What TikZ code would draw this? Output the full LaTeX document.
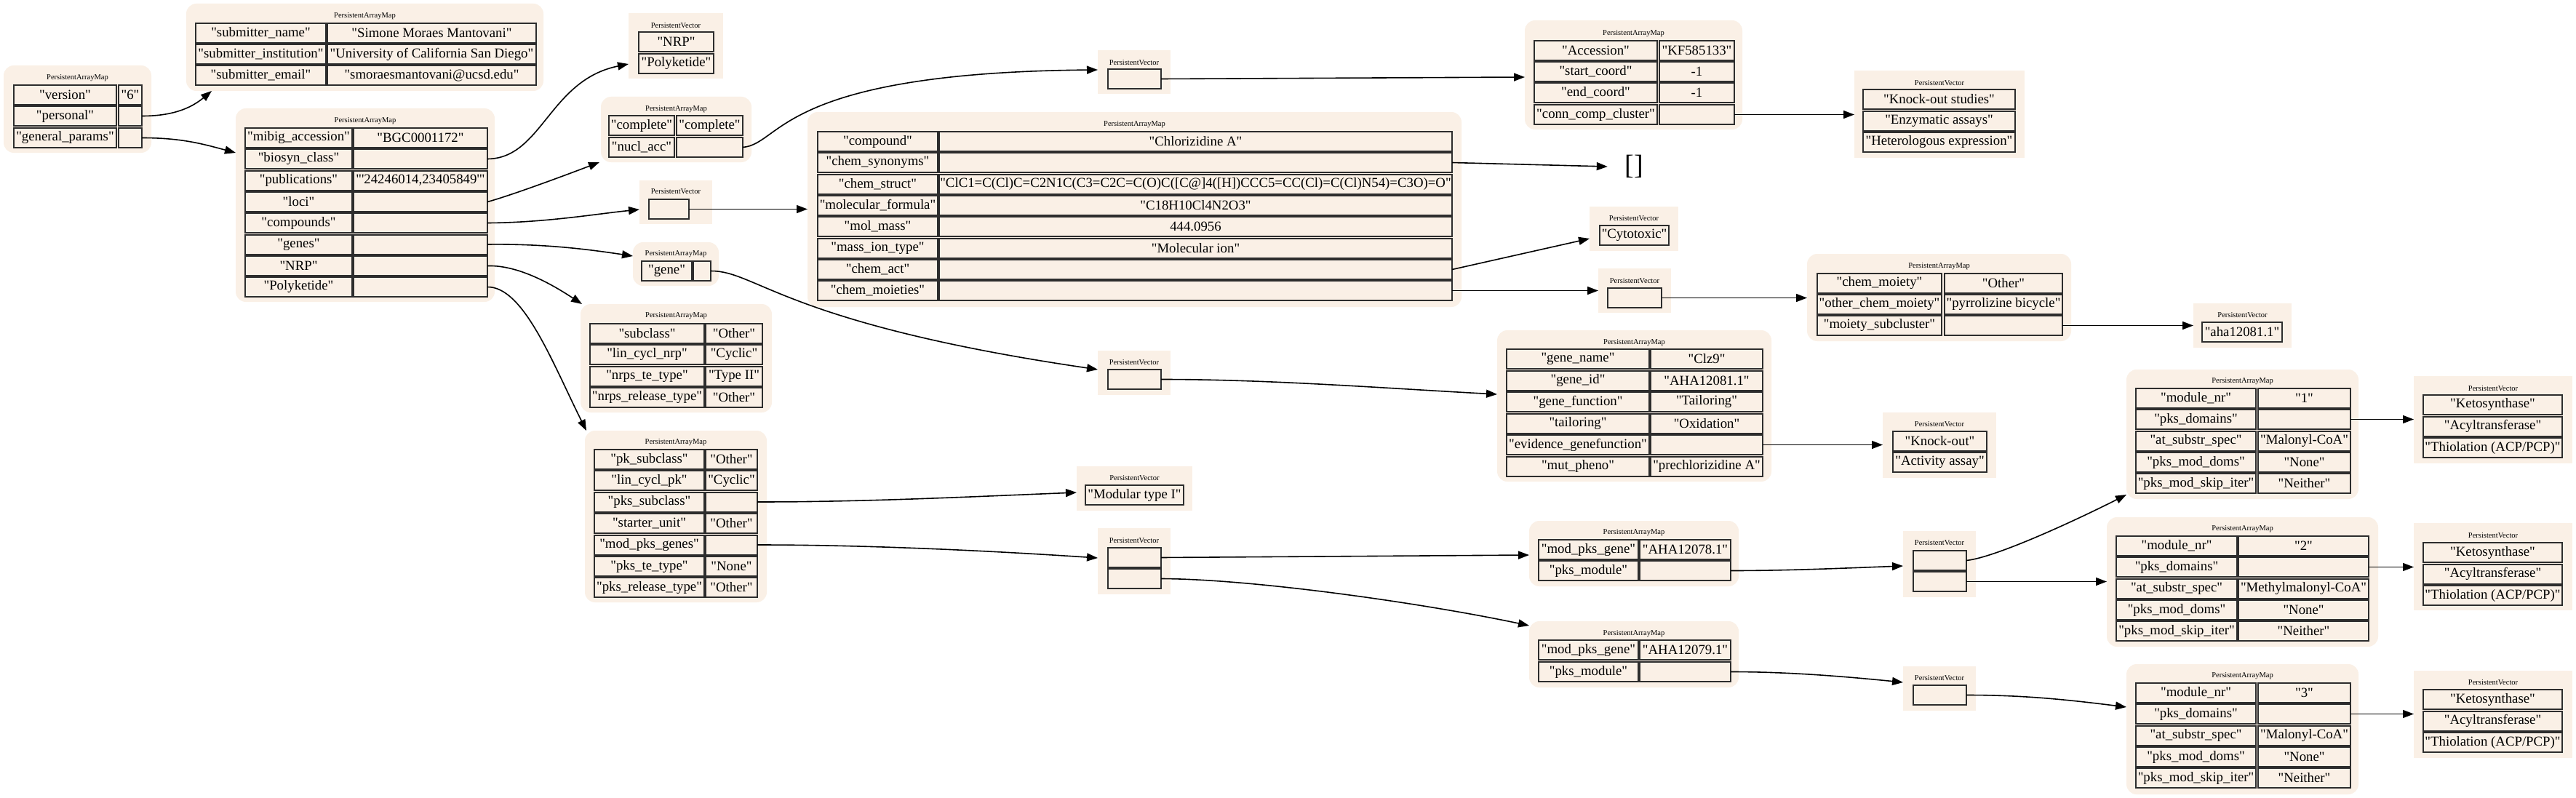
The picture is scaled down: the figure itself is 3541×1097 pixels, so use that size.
\documentclass[tikz,border=0pt]{standalone}
\usepackage{fontspec}
\setmainfont{Liberation Serif}[Ligatures=TeXOff]
\usetikzlibrary{arrows.meta,calc}
\definecolor{linen}{RGB}{250,240,230}
\definecolor{cb}{RGB}{45,45,45}
\tikzset{
  pamst/.style={fill=linen, rounded corners=14pt, inner sep=0, outer sep=0},
  pvst/.style={fill=linen, inner sep=0, outer sep=0},
  ttl/.style={inner sep=0, font=\fontsize{10.5}{12}\selectfont},
  cellst/.style={draw=cb, line width=2pt, fill=linen, inner sep=0, outer sep=0, font=\fontsize{18.8}{22}\selectfont},
  edge/.style={draw=black, line width=1.6pt, -{Triangle[length=15pt,width=11pt]}}
}
\newcommand{\pam}[6]{\node[pamst,anchor=north west,minimum width={#4-#2},minimum height={#5-#3}] (#1) at (#2,#3) {};
  \node[ttl] (#1t) at ({(#2+#4)/2},#6) {PersistentArrayMap};}
\newcommand{\pv}[6]{\node[pvst,anchor=north west,minimum width={#4-#2},minimum height={#5-#3}] (#1) at (#2,#3) {};
  \node[ttl] (#1t) at ({(#2+#4)/2},#6) {PersistentVector};}
\newcommand{\kv}[8]{\node[cellst,anchor=north west,minimum width={#4-#3},minimum height=27] (#1k) at (#3,#2) {#7};
  \node[cellst,anchor=north west,minimum width={#6-#5},minimum height=27] (#1v) at (#5,#2) {#8};}
\newcommand{\vc}[5]{\node[cellst,anchor=north west,minimum width={#4-#3},minimum height=27] (#1) at (#3,#2) {#5};}
\begin{document}
\begin{tikzpicture}[x=1pt,y=-1pt]
\fill[white] (0,0) rectangle (3541,1097);
\useasboundingbox (0,0) rectangle (3541,1097);

% root map
\pam{m0}{5}{90}{208}{210}{107}
\kv{m0r1}{117}{19}{160}{163}{195}{"version"}{"6"}
\kv{m0r2}{146}{19}{160}{163}{195}{"personal"}{}
\kv{m0r3}{176}{19}{160}{163}{195}{"general\_params"}{}

% personal
\pam{m1}{256}{5}{747}{125}{22}
\kv{m1r1}{32}{269}{448}{450}{737}{"submitter\_name"}{"Simone Moraes Mantovani"}
\kv{m1r2}{61}{269}{448}{450}{737}{"submitter\_institution"}{"University of California San Diego"}
\kv{m1r3}{90}{269}{448}{450}{737}{"submitter\_email"}{"smoraesmantovani@ucsd.edu"}

% general params
\pam{m2}{324}{149}{680}{415}{166}
\kv{m2r1}{176}{337}{484}{486}{670}{"mibig\_accession"}{"BGC0001172"}
\kv{m2r2}{205}{337}{484}{486}{670}{"biosyn\_class"}{}
\kv{m2r3}{234.5}{337}{484}{486}{670}{"publications"}{"'24246014,23405849'"}
\kv{m2r4}{264}{337}{484}{486}{670}{"loci"}{}
\kv{m2r5}{293}{337}{484}{486}{670}{"compounds"}{}
\kv{m2r6}{322.5}{337}{484}{486}{670}{"genes"}{}
\kv{m2r7}{352}{337}{484}{486}{670}{"NRP"}{}
\kv{m2r8}{381}{337}{484}{486}{670}{"Polyketide"}{}

% biosyn class vector
\pv{v1}{864}{18}{994}{108}{35}
\vc{v1c1}{44}{878}{981}{"NRP"}
\vc{v1c2}{74}{878}{981}{"Polyketide"}

% loci
\pam{m3}{826}{133}{1033}{223}{150}
\kv{m3r1}{159}{837}{927}{930}{1021}{"complete"}{"complete"}
\kv{m3r2}{189}{837}{927}{930}{1021}{"nucl\_acc"}{}

\pv{v2}{1509}{69}{1609}{129}{86}
\vc{v2c1}{95}{1523}{1596}{}

\pam{m4}{2096}{28}{2395}{178}{46}
\kv{m4r1}{56}{2109}{2278}{2281}{2384}{"Accession"}{"KF585133"}
\kv{m4r2}{85}{2109}{2278}{2281}{2384}{"start\_coord"}{-1}
\kv{m4r3}{114}{2109}{2278}{2281}{2384}{"end\_coord"}{-1}
\kv{m4r4}{144}{2109}{2278}{2281}{2384}{"conn\_comp\_cluster"}{}

\pv{v3}{2549}{97}{2783}{217}{114}
\vc{v3c1}{123}{2561}{2770}{"Knock-out studies"}
\vc{v3c2}{153}{2561}{2770}{"Enzymatic assays"}
\vc{v3c3}{182}{2561}{2770}{"Heterologous expression"}

% compounds
\pv{v4}{879}{248}{979}{308}{263}
\vc{v4c1}{274}{892}{947}{}

\pam{m5}{1110}{154}{2009}{422}{171}
\kv{m5r1}{181}{1124}{1289}{1291}{1996}{"compound"}{"Chlorizidine A"}
\kv{m5r2}{210}{1124}{1289}{1291}{1996}{"chem\_synonyms"}{}
\kv{m5r3}{239.5}{1124}{1289}{1291}{1996}{"chem\_struct"}{"ClC1=C(Cl)C=C2N1C(C3=C2C=C(O)C([C@]4([H])CCC5=CC(Cl)=C(Cl)N54)=C3O)=O"}
\kv{m5r4}{269}{1124}{1289}{1291}{1996}{"molecular\_formula"}{"C18H10Cl4N2O3"}
\kv{m5r5}{298}{1124}{1289}{1291}{1996}{"mol\_mass"}{444.0956}
\kv{m5r6}{327.5}{1124}{1289}{1291}{1996}{"mass\_ion\_type"}{"Molecular ion"}
\kv{m5r7}{357}{1124}{1289}{1291}{1996}{"chem\_act"}{}
\kv{m5r8}{386}{1124}{1289}{1291}{1996}{"chem\_moieties"}{}

\node[minimum width=72, inner sep=0, font=\fontsize{38}{40}\selectfont] (empty) at (2246,229) {[]};

\pv{v5}{2185}{284}{2307}{345}{300}
\vc{v5c1}{310}{2199}{2294}{"Cytotoxic"}

\pv{v6}{2197}{369}{2297}{430}{386}
\vc{v6c1}{396}{2210}{2284}{}

\pam{m6}{2484}{349}{2847}{469}{366}
\kv{m6r1}{376}{2498}{2669}{2673}{2835}{"chem\_moiety"}{"Other"}
\kv{m6r2}{405}{2498}{2669}{2673}{2835}{"other\_chem\_moiety"}{"pyrrolizine bicycle"}
\kv{m6r3}{434}{2498}{2669}{2673}{2835}{"moiety\_subcluster"}{}

\pv{v7}{3015}{417}{3150}{478}{433}
\vc{v7c1}{443}{3027}{3137}{"aha12081.1"}

% genes
\pam{m7}{870}{333}{988}{393}{349}
\kv{m7r1}{359}{882}{951}{953}{977}{"gene"}{}

\pv{v8}{1509}{482}{1609}{543}{498}
\vc{v8c1}{508}{1523}{1596}{}

\pam{m10}{2058}{454}{2435}{662}{471}
\kv{m10r1}{480}{2071}{2267}{2269}{2423}{"gene\_name"}{"Clz9"}
\kv{m10r2}{509.5}{2071}{2267}{2269}{2423}{"gene\_id"}{"AHA12081.1"}
\kv{m10r3}{539}{2071}{2267}{2269}{2423}{"gene\_function"}{"Tailoring"}
\kv{m10r4}{568.5}{2071}{2267}{2269}{2423}{"tailoring"}{"Oxidation"}
\kv{m10r5}{598}{2071}{2267}{2269}{2423}{"evidence\_genefunction"}{}
\kv{m10r6}{627.5}{2071}{2267}{2269}{2423}{"mut\_pheno"}{"prechlorizidine A"}

\pv{v11}{2588}{567}{2744}{657}{583}
\vc{v11c1}{593}{2602}{2731}{"Knock-out"}
\vc{v11c2}{622}{2602}{2731}{"Activity assay"}

% NRP
\pam{m8}{798}{418}{1061}{567}{434}
\kv{m8r1}{445}{811}{968}{970}{1048}{"subclass"}{"Other"}
\kv{m8r2}{474}{811}{968}{970}{1048}{"lin\_cycl\_nrp"}{"Cyclic"}
\kv{m8r3}{504}{811}{968}{970}{1048}{"nrps\_te\_type"}{"Type II"}
\kv{m8r4}{533}{811}{968}{970}{1048}{"nrps\_release\_type"}{"Other"}

% Polyketide
\pam{m9}{804}{592}{1054}{828}{608}
\kv{m9r1}{618}{817}{968}{970}{1041}{"pk\_subclass"}{"Other"}
\kv{m9r2}{647}{817}{968}{970}{1041}{"lin\_cycl\_pk"}{"Cyclic"}
\kv{m9r3}{676.5}{817}{968}{970}{1041}{"pks\_subclass"}{}
\kv{m9r4}{706}{817}{968}{970}{1041}{"starter\_unit"}{"Other"}
\kv{m9r5}{735.5}{817}{968}{970}{1041}{"mod\_pks\_genes"}{}
\kv{m9r6}{765}{817}{968}{970}{1041}{"pks\_te\_type"}{"None"}
\kv{m9r7}{794}{817}{968}{970}{1041}{"pks\_release\_type"}{"Other"}

\pv{v9}{1480}{641}{1639}{702}{657}
\vc{v9c1}{667}{1492}{1627}{"Modular type I"}

\pv{v10}{1509}{726}{1609}{817}{743}
\vc{v10c1}{753}{1523}{1596}{}
\vc{v10c2}{782}{1523}{1596}{}

\pam{m11}{2102}{716}{2390}{806}{732}
\kv{m11r1}{742}{2115}{2252}{2254}{2379}{"mod\_pks\_gene"}{"AHA12078.1"}
\kv{m11r2}{771}{2115}{2252}{2254}{2379}{"pks\_module"}{}

\pam{m12}{2102}{854}{2390}{945}{871}
\kv{m12r1}{880}{2115}{2252}{2254}{2379}{"mod\_pks\_gene"}{"AHA12079.1"}
\kv{m12r2}{910}{2115}{2252}{2254}{2379}{"pks\_module"}{}

\pv{v12}{2616}{730}{2716}{821}{746}
\vc{v12c1}{757}{2630}{2703}{}
\vc{v12c2}{786}{2630}{2703}{}

\pv{v13}{2616}{916}{2716}{977}{932}
\vc{v13c1}{942}{2630}{2703}{}

% modules
\pam{m13}{2923}{508}{3242}{686}{524}
\kv{m13r1}{534}{2936}{3101}{3104}{3231}{"module\_nr"}{"1"}
\kv{m13r2}{563}{2936}{3101}{3104}{3231}{"pks\_domains"}{}
\kv{m13r3}{592.5}{2936}{3101}{3104}{3231}{"at\_substr\_spec"}{"Malonyl-CoA"}
\kv{m13r4}{622}{2936}{3101}{3104}{3231}{"pks\_mod\_doms"}{"None"}
\kv{m13r5}{651}{2936}{3101}{3104}{3231}{"pks\_mod\_skip\_iter"}{"Neither"}

\pam{m14}{2896}{711}{3269}{889}{727}
\kv{m14r1}{737}{2909}{3075}{3077}{3256}{"module\_nr"}{"2"}
\kv{m14r2}{766}{2909}{3075}{3077}{3256}{"pks\_domains"}{}
\kv{m14r3}{795.5}{2909}{3075}{3077}{3256}{"at\_substr\_spec"}{"Methylmalonyl-CoA"}
\kv{m14r4}{825}{2909}{3075}{3077}{3256}{"pks\_mod\_doms"}{"None"}
\kv{m14r5}{854}{2909}{3075}{3077}{3256}{"pks\_mod\_skip\_iter"}{"Neither"}

\pam{m15}{2923}{913}{3242}{1092}{929}
\kv{m15r1}{939}{2936}{3101}{3104}{3231}{"module\_nr"}{"3"}
\kv{m15r2}{968}{2936}{3101}{3104}{3231}{"pks\_domains"}{}
\kv{m15r3}{997.5}{2936}{3101}{3104}{3231}{"at\_substr\_spec"}{"Malonyl-CoA"}
\kv{m15r4}{1027}{2936}{3101}{3104}{3231}{"pks\_mod\_doms"}{"None"}
\kv{m15r5}{1056}{2936}{3101}{3104}{3231}{"pks\_mod\_skip\_iter"}{"Neither"}

\pv{v14}{3318}{517}{3536}{637}{534}
\vc{v14c1}{543}{3331}{3522}{"Ketosynthase"}
\vc{v14c2}{572.5}{3331}{3522}{"Acyltransferase"}
\vc{v14c3}{602}{3331}{3522}{"Thiolation (ACP/PCP)"}

\pv{v15}{3318}{719}{3536}{839}{736}
\vc{v15c1}{746}{3331}{3522}{"Ketosynthase"}
\vc{v15c2}{775.5}{3331}{3522}{"Acyltransferase"}
\vc{v15c3}{805}{3331}{3522}{"Thiolation (ACP/PCP)"}

\pv{v16}{3318}{922}{3536}{1042}{938}
\vc{v16c1}{948}{3331}{3522}{"Ketosynthase"}
\vc{v16c2}{977.5}{3331}{3522}{"Acyltransferase"}
\vc{v16c3}{1007}{3331}{3522}{"Thiolation (ACP/PCP)"}

% edges
\draw[edge] (m0r2v.east) .. controls +(40,0) and +(-30,25) .. (291,0 |- m1.south);
\draw[edge] (m0r3v.east) .. controls +(55,0) and +(-45,-12) .. (m2.west |- 0,210);
\draw[edge] (m2r2v.east) .. controls (745,218) and (755,110) .. (v1.west |- 0,88);
\draw[edge] (m2r4v.east) .. controls (705,268) and (790,236) .. (824,0 |- m3.south);
\draw[edge] (m2r5v.east) .. controls (750,306) and (820,294) .. (v4.west |- 0,288);
\draw[edge] (m2r6v.east) .. controls (750,335) and (810,343) .. (m7.west |- 0,352);
\draw[edge] (m2r7v.east) .. controls (715,364) and (765,395) .. (800,0 |- m8.north);
\draw[edge] (m2r8v.east) .. controls (720,394) and (760,500) .. (806,0 |- m9.north);
\draw[edge] (m3r2v.east) .. controls (1075,198) and (1070,100) .. (v2.west |- 0,96);
\draw[edge] (v2c1.east) -- (m4.west |- 0,106);
\draw[edge] (m4r4v.east) -- (v3.west |- m4r4v.east);
\draw[edge] (v4c1.east) -- (m5.west |- v4c1.east);
\draw[edge] (m5r2v.east) -- (empty.west);
\draw[edge] (m5r7v.east) -- (v5.west |- 0,328);
\draw[edge] (m5r8v.east) -- (v6.west |- m5r8v.east);
\draw[edge] (v6c1.east) -- (m6.west |- v6c1.east);
\draw[edge] (m6r3v.east) -- (v7.west |- m6r3v.east);
\draw[edge] (m7r1v.east) .. controls (1040,372) and (1080,445) .. (v8.west |- 0,508);
\draw[edge] (m9r3v.east) .. controls +(150,0) and +(-150,6) .. (v9.west |- 0,677);
\draw[edge] (m9r5v.east) .. controls +(150,0) and +(-150,-10) .. (v10.west |- 0,767);
\draw[edge] (v8c1.east) .. controls +(150,0) and +(-150,-8) .. (m10.west |- 0,542);
\draw[edge] (v10c1.east) -- (m11.west |- 0,763);
\draw[edge] (v10c2.east) .. controls (1720,796) and (1950,828) .. (m12.west |- 0,860);
\draw[edge] (m10r5v.east) -- (v11.west |- m10r5v.east);
\draw[edge] (m11r2v.east) .. controls +(80,0) and +(-80,3) .. (v12.west |- 0,778);
\draw[edge] (m12r2v.east) .. controls +(80,0) and +(-80,-8) .. (v13.west |- 0,938);
\draw[edge] (v12c1.east) .. controls (2745,766) and (2860,712) .. (m13.west |- 0,680);
\draw[edge] (v12c2.east) -- (m14.west |- v12c2.east);
\draw[edge] (v13c1.east) .. controls +(80,0) and +(-80,-10) .. (m15.west |- 0,972);
\draw[edge] (m13r2v.east) -- (v14.west |- m13r2v.east);
\draw[edge] (m14r2v.east) -- (v15.west |- m14r2v.east);
\draw[edge] (m15r2v.east) -- (v16.west |- m15r2v.east);
\end{tikzpicture}
\end{document}
